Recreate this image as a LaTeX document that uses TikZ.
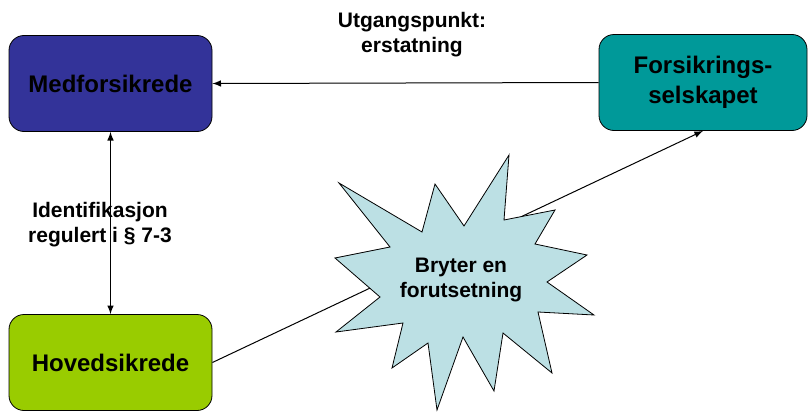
\documentclass[tikz,border=0pt]{standalone}
\usepackage{fontspec}
\setmainfont{Liberation Sans}
\usepackage{tikz}

\definecolor{medblue}{RGB}{51,51,153}
\definecolor{selskapteal}{RGB}{0,153,153}
\definecolor{hovedgreen}{RGB}{153,204,0}
\definecolor{burstblue}{RGB}{188,224,228}

\tikzset{
  party/.style={draw, rounded corners=7.5pt, minimum width=101.5pt,
    minimum height=48pt, align=center,
    font=\fontsize{12}{15}\selectfont\bfseries},
  lbl/.style={align=center, font=\fontsize{10.5}{12.5}\selectfont\bfseries},
  conn/.style={line width=0.5pt}
}

\begin{document}
\begin{tikzpicture}[x=0.5pt, y=-0.5pt]
\useasboundingbox (0,0) rectangle (809,412);

%parties
\node[party, fill=medblue] (medforsikrede) at (110.5,83.5) {Medforsikrede};
\node[party, fill=selskapteal, minimum width=104pt] (selskap) at (703,82.5) {Forsikrings-\\selskapet};
\node[party, fill=hovedgreen] (hovedsikrede) at (110.5,362.5) {Hovedsikrede};

%lines
\draw[conn, -latex] (selskap.west) -- (medforsikrede.east);
\draw[conn, latex-latex] (medforsikrede.south) -- (hovedsikrede.north);
\draw[conn, -latex] (hovedsikrede.east) -- (selskap.south);

%starburst
\draw[fill=burstblue, line width=0.4pt]
  (509,155) -- (504,220) -- (555,210) -- (535,244) -- (587,255) -- (547,282)
  -- (594,315) -- (538,312) -- (552,373) -- (503,333) -- (494,391) -- (463,337)
  -- (437,410) -- (428,343) -- (392,368) -- (403,323) -- (336,332) -- (380,297)
  -- (335,258) -- (390,247) -- (339,183) -- (422,232) -- (435,184) -- (464,226)
  -- cycle;
\node[lbl] (brudd) at (461,280) {Bryter en\\forutsetning};

%labels
\node[lbl] (utgangspunkt) at (412,35) {Utgangspunkt:\\erstatning};
\node[lbl] (identifikasjon) at (100,225) {Identifikasjon\\regulert i § 7-3};

\end{tikzpicture}
\end{document}
